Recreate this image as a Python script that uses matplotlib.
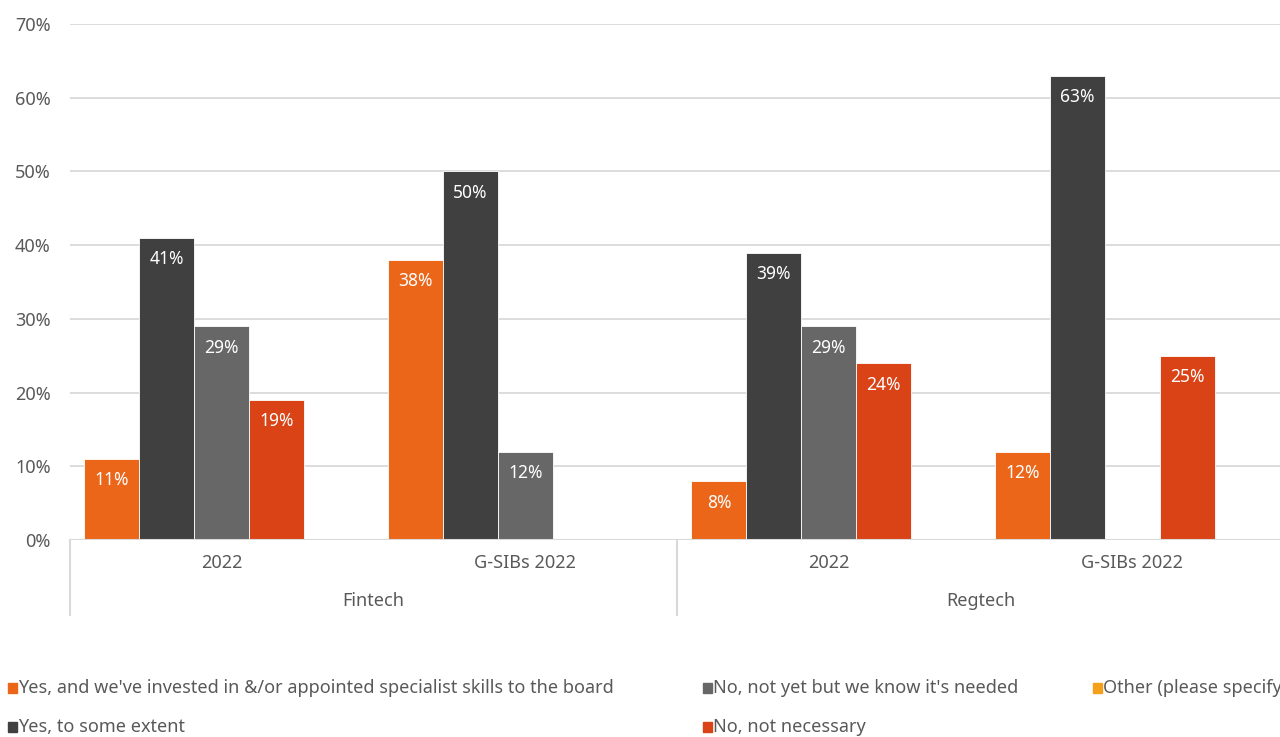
import matplotlib
matplotlib.use("Agg")
import matplotlib.pyplot as plt
from matplotlib.patches import Rectangle
import numpy as np

groups = ["Fintech", "Regtech"]
subcats = ["2022", "G-SIBs 2022", "2022", "G-SIBs 2022"]
series = [
    "Yes, and we've invested in &/or appointed specialist skills to the board",
    "Yes, to some extent",
    "No, not yet but we know it's needed",
    "No, not necessary",
    "Other (please specify)",
]
yes_invested = [11, 38, 8, 12]
yes_some = [41, 50, 39, 63]
no_not_yet = [29, 12, 29, 0]
no_not_needed = [19, 0, 24, 25]
other = [0, 0, 0, 0]
values = [yes_invested, yes_some, no_not_yet, no_not_needed, other]
colors = ["#EC661A", "#404040", "#676767", "#D94316", "#F5A01A"]
yticks = [0, 10, 20, 30, 40, 50, 60, 70]

plt.rcParams['font.family'] = ['Noto Sans', 'DejaVu Sans']
fig = plt.figure(figsize=(12.8, 7.37), dpi=100)
W, H = 1280, 737
ax = fig.add_axes([70 / W, (H - 540) / H, 1214 / W, 516 / H])

x = np.arange(len(subcats))
bw = 0.181
for i, (vals, c) in enumerate(zip(values, colors)):
    pos = x + (i - 2) * bw
    for p, v in zip(pos, vals):
        if v <= 0:
            continue
        ax.bar(p, v, width=bw, color=c, edgecolor="white", linewidth=0.6, zorder=3)
        ax.text(p, v - 1.7, f"{v}%", ha="center", va="top", color="white",
                fontsize=12.5, zorder=4)

ax.set_xlim(-0.5, 3.5)
ax.set_ylim(0, 70)
ax.set_yticks(yticks)
ax.set_yticklabels([f"{t}%" for t in yticks], color="#595959", fontsize=13)
ax.tick_params(axis="y", length=0, pad=14)
ax.set_xticks([])
ax.grid(axis="y", color="#D9D9D9", linewidth=1.3, zorder=0)
for s in ax.spines.values():
    s.set_visible(False)
ax.axhline(0, color="#D9D9D9", linewidth=1.5, zorder=5)

# multi-level category axis
for xi, lab in zip(x, subcats):
    ax.text(xi, -0.045, lab, transform=ax.get_xaxis_transform(), ha="center",
            va="center", color="#595959", fontsize=13)
for gi, g in enumerate(groups):
    ax.text(gi * 2 + 0.5, -0.118, g, transform=ax.get_xaxis_transform(),
            ha="center", va="center", color="#595959", fontsize=13)
for sx in [-0.5, 1.5, 3.5]:
    ax.plot([sx, sx], [0, -0.145], transform=ax.get_xaxis_transform(),
            color="#D9D9D9", linewidth=1.5, clip_on=False)

# legend (manual, column-major order)
leg_pos = [(8, 688), (8, 727), (703, 688), (703, 727), (1093, 688)]
for (px, py), name, c in zip(leg_pos, series, colors):
    fig.patches.append(Rectangle((px / W, (H - py - 5) / H), 9 / W, 10 / H,
                                 transform=fig.transFigure, color=c))
    fig.text((px + 10) / W, (H - py) / H, name, ha="left", va="center",
             color="#595959", fontsize=13)

fig.savefig("out.png", dpi=100)
